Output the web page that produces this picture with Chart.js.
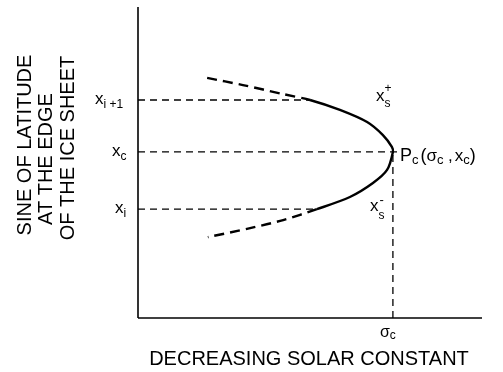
<!DOCTYPE html>
<html>
<head>
<meta charset="utf-8">
<script src="https://cdn.jsdelivr.net/npm/chart.js@4.4.1/dist/chart.umd.min.js"></script>
<style>
  html, body { margin: 0; padding: 0; background: #fff; }
  #wrap { width: 503px; height: 372px; position: relative; }
</style>
</head>
<body>
<div id="wrap"><canvas id="c" width="503" height="372"></canvas></div>
<script>
// Key values (data units: 0-100 on both axes)
const sigmaC = 74.1;     // critical solar constant
const xC = 53.4;         // critical ice-edge sine latitude
const xIplus1 = 70.1;    // x_{i+1}
const xI = 35.0;         // x_i

// Equilibrium curve, traced from upper-left end through P_c to lower-left end
const curveX = [20.1, 30.5, 42.2, 50.0, 58.7, 66.6, 71.2, 73.8, 74.1, 72.4, 68.3, 61.6, 52.0, 42.2, 32.6, 20.3];
const curveY = [77.2, 74.9, 72.0, 70.1, 66.9, 63.0, 58.8, 55.0, 53.4, 47.6, 43.4, 38.9, 35.0, 31.5, 28.9, 26.0];
// Index range drawn solid (the rest is dashed)
const solidFrom = 3;
const solidTo = 12;

// Reference line end points on the curve
const xIplus1CurveX = 50.0;
const xICurveX = 52.0;

const FONT = '"Liberation Sans", Arial, sans-serif';

const labelsPlugin = {
  id: 'labels',
  afterDatasetsDraw(chart) {
    const { ctx } = chart;
    const sx = chart.scales.x, sy = chart.scales.y;
    const X = v => sx.getPixelForValue(v);
    const Y = v => sy.getPixelForValue(v);
    ctx.save();
    ctx.fillStyle = '#000';
    ctx.textBaseline = 'alphabetic';

    function t(str, x, y, size, align) {
      ctx.font = size + 'px ' + FONT;
      ctx.textAlign = align || 'left';
      ctx.fillText(str, x, y);
      return ctx.measureText(str).width;
    }

    const ax = X(0);
    let bx = ax - 43, by = Y(xIplus1) + 4;
    let w = t('x', bx, by, 17);
    t('i +1', bx + w, by + 4, 12);
    bx = ax - 26; by = Y(xC) + 4;
    w = t('x', bx, by, 17);
    t('c', bx + w, by + 4, 12);
    bx = ax - 23; by = Y(xI) + 4;
    w = t('x', bx, by, 17);
    t('i', bx + w, by + 4, 12);

    bx = X(sigmaC) - 13; by = Y(0) + 19;
    w = t('\u03C3', bx, by, 16);
    t('c', bx + w, by + 2, 12);

    bx = X(sigmaC) - 17; by = Y(xIplus1) + 1;
    w = t('x', bx, by, 17);
    t('s', bx + w, by + 6, 12);
    t('+', bx + w, by - 9, 12);

    bx = X(sigmaC) - 23; by = Y(xI) + 2;
    w = t('x', bx, by, 17);
    t('s', bx + w, by + 8, 12);
    t('-', bx + w + 1, by - 7, 13);

    bx = X(sigmaC) + 7; by = Y(xC) + 9;
    w = t('P', bx, by, 18); bx += w;
    w = t('c', bx, by + 3, 13); bx += w + 2;
    w = t('(', bx, by, 18); bx += w;
    w = t('\u03C3', bx, by, 17); bx += w;
    w = t('c', bx, by + 3, 13); bx += w;
    w = t(' ,', bx, by, 17); bx += w + 2;
    w = t('x', bx, by, 17); bx += w;
    w = t('c', bx, by + 3, 13); bx += w;
    t(')', bx, by, 18);

    ctx.font = '20px ' + FONT;
    ctx.textAlign = 'center';
    ctx.fillText('DECREASING SOLAR CONSTANT', 309, 365);

    const ylines = [
      ['SINE OF LATITUDE', 31, 145],
      ['AT THE EDGE', 52, 159],
      ['OF THE ICE SHEET', 74, 148]
    ];
    ylines.forEach(([s, cx, cy]) => {
      ctx.save();
      ctx.translate(cx, cy);
      ctx.rotate(-Math.PI / 2);
      ctx.font = '20px ' + FONT;
      ctx.textAlign = 'center';
      ctx.fillText(s, 0, 0);
      ctx.restore();
    });
    ctx.restore();
  }
};

const lineDs = (data, opts) => Object.assign({
  data: data,
  showLine: true,
  borderColor: '#000',
  backgroundColor: '#000',
  pointRadius: 0,
  borderWidth: 1.3,
  fill: false,
  clip: 12,
  tension: 0
}, opts);

new Chart(document.getElementById('c'), {
  type: 'scatter',
  data: {
    datasets: [
      lineDs([{ x: 0, y: 0 }, { x: 0, y: 100 }], { borderWidth: 1.6 }),
      lineDs([{ x: 0, y: 0 }, { x: 100, y: 0 }], { borderWidth: 1.6 }),
      lineDs([{ x: 0, y: xIplus1 }, { x: xIplus1CurveX, y: xIplus1 }], { borderDash: [7, 5] }),
      lineDs([{ x: 0, y: xC }, { x: sigmaC + 1.5, y: xC }], { borderDash: [7, 5] }),
      lineDs([{ x: 0, y: xI }, { x: xICurveX, y: xI }], { borderDash: [7, 5] }),
      lineDs([{ x: sigmaC, y: 0 }, { x: sigmaC, y: xC }], { borderDash: [7, 5] }),
      lineDs(curveX.map((x, i) => ({ x: x, y: curveY[i] })), {
        borderWidth: 2.4,
        tension: 0.3,
        segment: {
          borderDash: c => (c.p0DataIndex >= solidFrom && c.p0DataIndex < solidTo) ? [] : [10, 6]
        }
      })
    ]
  },
  options: {
    responsive: false,
    animation: false,
    devicePixelRatio: 1,
    layout: { padding: { left: 138, top: 7, right: 21, bottom: 54 } },
    plugins: { legend: { display: false }, tooltip: { enabled: false } },
    scales: {
      x: { type: 'linear', min: 0, max: 100, display: false },
      y: { type: 'linear', min: 0, max: 100, display: false }
    }
  },
  plugins: [labelsPlugin]
});
</script>
</body>
</html>
